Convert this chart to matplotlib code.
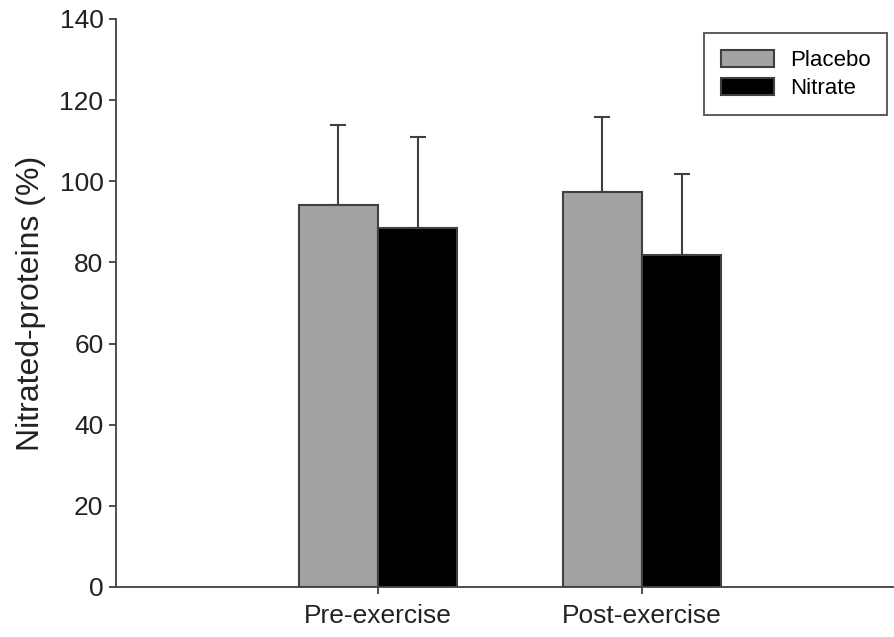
import matplotlib
matplotlib.use("Agg")
import matplotlib.pyplot as plt
import numpy as np

plt.rcParams['font.family'] = ['Liberation Sans', 'DejaVu Sans']

categories = ["Pre-exercise", "Post-exercise"]
series_names = ["Placebo", "Nitrate"]
placebo = [94.2, 97.4]
placebo_err = [19.6, 18.5]
nitrate = [88.5, 81.9]
nitrate_err = [22.4, 19.8]
yticks = [0, 20, 40, 60, 80, 100, 120, 140]

fig = plt.figure(figsize=(8.94, 6.37), dpi=100)
ax = fig.add_axes([116/894, 50/637, 1 - 116/894, (587-19)/637])

x = np.arange(1, len(categories) + 1)
w = 0.3
edge = '#404040'
ax.bar(x - w/2, placebo, w, color='#a3a3a3', edgecolor=edge, linewidth=1.5,
       label=series_names[0], zorder=2)
ax.bar(x + w/2, nitrate, w, color='#000000', edgecolor=edge, linewidth=1.5,
       label=series_names[1], zorder=2)
ax.errorbar(x - w/2, placebo, yerr=[np.zeros(2), placebo_err], fmt='none',
            ecolor=edge, elinewidth=1.5, capsize=6, capthick=1.5, zorder=1)
ax.errorbar(x + w/2, nitrate, yerr=[np.zeros(2), nitrate_err], fmt='none',
            ecolor=edge, elinewidth=1.5, capsize=6, capthick=1.5, zorder=1)

ax.set_xlim(1 - 262/264, 2 + 252/264)
ax.set_ylim(0, 140)
ax.set_yticks(yticks)
ax.set_xticks(x)
ax.set_xticklabels(categories)
for s in ['top', 'right']:
    ax.spines[s].set_visible(False)
for s in ['left', 'bottom']:
    ax.spines[s].set_color(edge)
    ax.spines[s].set_linewidth(1.3)
ax.tick_params(direction='out', length=5, width=1.3, color=edge,
               labelsize=19, labelcolor='#222222', pad=4)
ax.tick_params(axis='x', pad=7)
ax.set_ylabel("Nitrated-proteins (%)", fontsize=23, color='#222222', labelpad=10)

leg = ax.legend(loc='upper right', frameon=True, fancybox=False, fontsize=16,
                borderpad=0.75, handlelength=2.4, handleheight=0.8,
                handletextpad=0.7, labelspacing=0.3, borderaxespad=0)
leg.get_frame().set_edgecolor('#333333')
leg.get_frame().set_linewidth(1.4)
leg.set_bbox_to_anchor((887/894, (637-33)/637), transform=fig.transFigure)

fig.savefig("out.png", dpi=100)
